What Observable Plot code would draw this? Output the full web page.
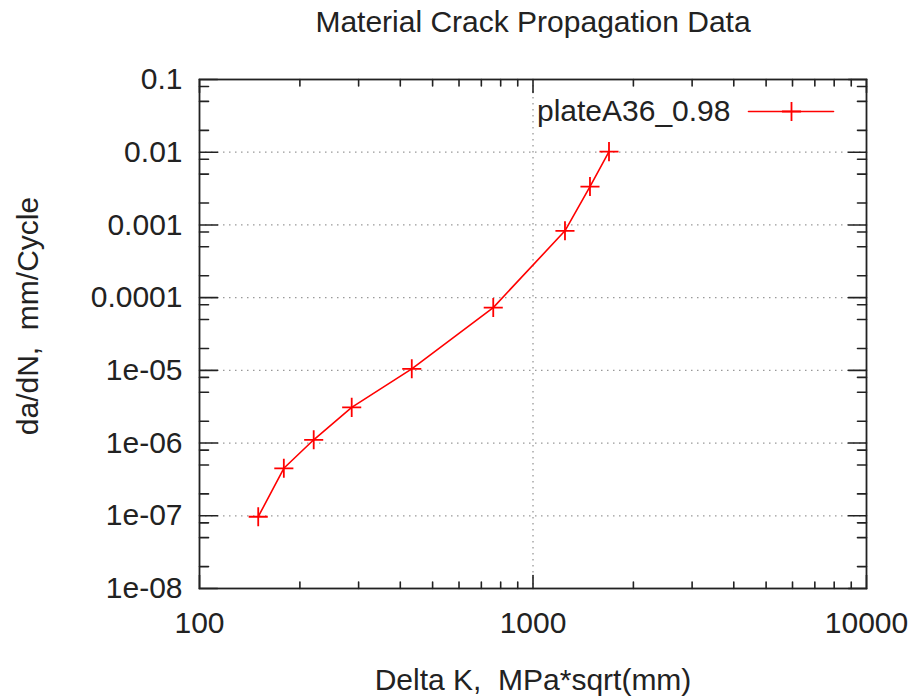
<!DOCTYPE html>
<html>
<head>
<meta charset="utf-8">
<script src="https://cdn.jsdelivr.net/npm/d3@7"></script>
<script src="https://cdn.jsdelivr.net/npm/@observablehq/plot@0.6"></script>
<style>
  html, body { margin: 0; padding: 0; background: #fff; }
  #chart svg { display: block; }
</style>
</head>
<body>
<div id="chart"></div>
<script>
// Crack growth rate vs. stress-intensity range, plate A36 (R = 0.98)
const seriesName = "plateA36_0.98";
const deltaK = [150, 179, 220, 286, 433, 760, 1247, 1482, 1690];        // MPa*sqrt(mm)
const dadN   = [9.7e-8, 4.5e-7, 1.11e-6, 3.1e-6, 1.05e-5, 7.3e-5, 8.3e-4, 3.37e-3, 1.02e-2]; // mm/cycle

// Axis ticks
const xMajor = [100, 1000, 10000];
const xMajorLabels = ["100", "1000", "10000"];
const xMinor = [200, 300, 400, 500, 600, 700, 800, 900, 2000, 3000, 4000, 5000, 6000, 7000, 8000, 9000];
const yMajor = [1e-8, 1e-7, 1e-6, 1e-5, 1e-4, 1e-3, 1e-2, 1e-1];
const yMajorLabels = ["1e-08", "1e-07", "1e-06", "1e-05", "0.0001", "0.001", "0.01", "0.1"];
const yMinorMultipliers = [2, 5, 8];
const xGrid = [1000];
const yGrid = [1e-7, 1e-6, 1e-5, 1e-4, 1e-3, 1e-2];

const title = "Material Crack Propagation Data";
const xLabel = "Delta K,  MPa*sqrt(mm)";
const yLabel = "da/dN,  mm/Cycle";

const points = deltaK.map((k, i) => ({k, r: dadN[i]}));
const yMinor = yMajor.slice(0, -1).flatMap(d => yMinorMultipliers.map(m => d * m));
const xLabelOf = new Map(xMajor.map((d, i) => [d, xMajorLabels[i]]));
const yLabelOf = new Map(yMajor.map((d, i) => [d, yMajorLabels[i]]));

// a plain line segment for tick vectors (drawn "up", rotated into place)
const stick = {draw(context, l) { context.moveTo(0, 0); context.lineTo(0, -l); }};

const font = "'Liberation Sans', Arial, sans-serif";
const ink = "#222";
const red = "#ff0000";
const fs = 30;

function ticks(data, channel, anchor, rotate, length) {
  return Plot.vector(data, {
    [channel]: d => d, frameAnchor: anchor, rotate, length,
    anchor: "start", shape: stick, stroke: ink, strokeWidth: 1.6
  });
}

const chart = Plot.plot({
  width: 916,
  height: 700,
  marginTop: 79,
  marginBottom: 112,
  marginLeft: 199,
  marginRight: 50,
  style: {fontFamily: font, background: "#fff"},
  x: {type: "log", domain: [100, 10000], axis: null},
  y: {type: "log", domain: [1e-8, 0.1], axis: null},
  marks: [
    // dotted grid at major ticks
    Plot.ruleY(yGrid, {y: d => d, stroke: "#999", strokeWidth: 1.3, strokeDasharray: "1.5,4.5"}),
    Plot.ruleX(xGrid, {x: d => d, stroke: "#999", strokeWidth: 1.3, strokeDasharray: "1.5,4.5"}),

    // inward ticks on all four sides
    ticks(yMajor, "y", "left", 90, 18),
    ticks(yMinor, "y", "left", 90, 9),
    ticks(yMajor, "y", "right", -90, 18),
    ticks(yMinor, "y", "right", -90, 9),
    ticks(xMajor, "x", "bottom", 0, 13),
    ticks(xMinor, "x", "bottom", 0, 6.5),
    ticks(xMajor, "x", "top", 180, 13),
    ticks(xMinor, "x", "top", 180, 6.5),

    Plot.frame({stroke: ink, strokeWidth: 1.8}),

    // tick labels
    Plot.text(yMajor, {y: d => d, text: d => yLabelOf.get(d), frameAnchor: "left", dx: -17,
      textAnchor: "end", lineAnchor: "middle", fontSize: fs, fill: ink}),
    Plot.text(xMajor, {x: d => d, text: d => xLabelOf.get(d), frameAnchor: "bottom", dy: 35,
      textAnchor: "middle", lineAnchor: "middle", fontSize: fs, fill: ink}),

    // data series
    Plot.line(points, {x: "k", y: "r", stroke: red, strokeWidth: 1.6}),
    Plot.dot(points, {x: "k", y: "r", symbol: "plus", r: 6.2, stroke: red, strokeWidth: 1.8}),

    // legend (top-right)
    Plot.text([seriesName], {text: d => d, frameAnchor: "top-right", dx: -136, dy: 32,
      textAnchor: "end", lineAnchor: "middle", fontSize: fs, fill: ink}),
    Plot.vector([seriesName], {frameAnchor: "top-right", dx: -33, dy: 32, rotate: -90, length: 85,
      anchor: "start", shape: stick, stroke: red, strokeWidth: 1.6}),
    Plot.dot([seriesName], {frameAnchor: "top-right", dx: -75, dy: 32, symbol: "plus", r: 6.2,
      stroke: red, strokeWidth: 1.8}),

    // title and axis titles
    Plot.text([title], {text: d => d, frameAnchor: "top", dy: -57, textAnchor: "middle",
      lineAnchor: "middle", fontSize: fs, fill: ink}),
    Plot.text([xLabel], {text: d => d, frameAnchor: "bottom", dy: 92, textAnchor: "middle",
      lineAnchor: "middle", fontSize: fs, fill: ink}),
    Plot.text([yLabel], {text: d => d, frameAnchor: "left", dx: -171, dy: -18, rotate: -90,
      textAnchor: "middle", lineAnchor: "middle", fontSize: fs, fill: ink})
  ]
});

document.getElementById("chart").append(chart);
</script>
</body>
</html>
